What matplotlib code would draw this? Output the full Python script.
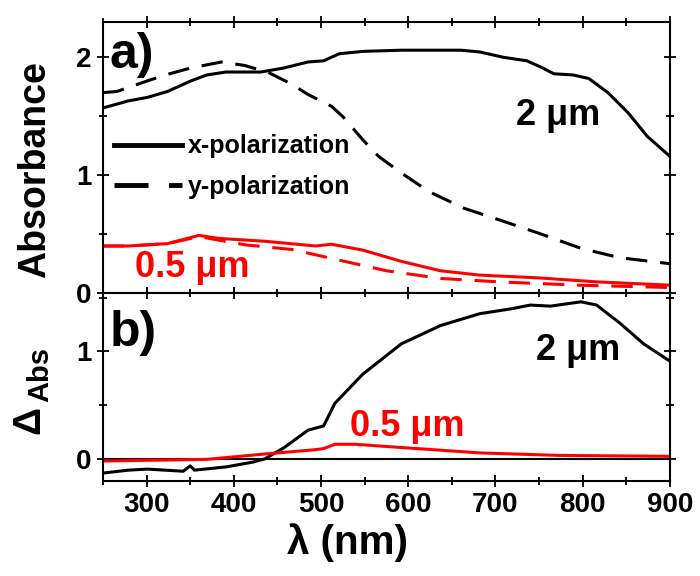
import numpy as np
import matplotlib
matplotlib.use("Agg")
import matplotlib.pyplot as plt
from matplotlib.ticker import MultipleLocator

plt.rcParams['font.family'] = ['Liberation Sans', 'DejaVu Sans']
plt.rcParams['font.weight'] = 'bold'
plt.rcParams['axes.labelweight'] = 'bold'

# Datos leidos del grafico
# a) Absorbancia, 2 um, polarizacion x (linea continua negra)
lam_2x = [250, 279, 301, 324, 351, 369, 391, 431, 458, 485, 503, 521, 548, 592,
          660, 682, 709, 736, 754, 767, 789, 807, 829, 852, 874, 900]
abs_2x = [1.57, 1.63, 1.66, 1.71, 1.80, 1.85, 1.875, 1.875, 1.91, 1.96, 1.97, 2.03,
          2.05, 2.06, 2.06, 2.045, 2.00, 1.97, 1.91, 1.86, 1.85, 1.82, 1.70, 1.53,
          1.33, 1.16]
# 2 um, polarizacion y (discontinua negra)
lam_2y = [250, 266, 301, 324, 351, 386, 413, 440, 467, 485, 512, 526, 548, 566,
          592, 624, 664, 709, 749, 798, 843, 900]
abs_2y = [1.70, 1.71, 1.80, 1.855, 1.91, 1.96, 1.93, 1.87, 1.77, 1.685, 1.585,
          1.49, 1.30, 1.16, 1.02, 0.86, 0.72, 0.61, 0.51, 0.38, 0.30, 0.25]
# 0.5 um, polarizacion x (continua roja)
lam_05x = [250, 279, 324, 360, 382, 436, 494, 512, 548, 592, 637, 682, 749, 816, 900]
abs_05x = [0.40, 0.40, 0.42, 0.49, 0.465, 0.44, 0.40, 0.415, 0.365, 0.27, 0.19,
           0.153, 0.13, 0.096, 0.068]
# 0.5 um, polarizacion y (discontinua roja)
lam_05y = [250, 279, 324, 360, 413, 467, 521, 575, 637, 704, 794, 900]
abs_05y = [0.40, 0.40, 0.42, 0.48, 0.41, 0.37, 0.28, 0.19, 0.125, 0.096, 0.068, 0.048]

# b) Delta absorbancia
lam_d2 = [250, 279, 301, 342, 350, 355, 391, 422, 436, 458, 485, 503, 516, 548,
          592, 637, 682, 718, 740, 763, 798, 816, 843, 870, 900]
dabs_2 = [-0.127, -0.10, -0.09, -0.11, -0.06, -0.10, -0.07, -0.025, 0.006, 0.11,
          0.27, 0.31, 0.52, 0.79, 1.07, 1.24, 1.35, 1.395, 1.43, 1.42, 1.46, 1.43,
          1.26, 1.07, 0.91]
lam_d05 = [250, 369, 436, 494, 503, 516, 539, 592, 682, 772, 900]
dabs_05 = [-0.015, 0.0, 0.05, 0.09, 0.10, 0.14, 0.14, 0.11, 0.06, 0.037, 0.028]

rojo = '#ff0000'
lw = 2.2
guiones = (7, 4.2)

fig = plt.figure(figsize=(7, 5.76), dpi=100)
ax1 = fig.add_axes([0.147, 0.491, 0.81, 0.471])
ax2 = fig.add_axes([0.147, 0.165, 0.81, 0.326], sharex=ax1)

ax1.plot(lam_2x, abs_2x, color='k', lw=lw, label='x-polarization')
ax1.plot(lam_2y, abs_2y, color='k', lw=lw, dashes=guiones, label='y-polarization')
ax1.plot(lam_05x, abs_05x, color=rojo, lw=lw)
ax1.plot(lam_05y, abs_05y, color=rojo, lw=lw, dashes=guiones)

ax2.axhline(0, color='k', lw=1.5)
ax2.plot(lam_d2, dabs_2, color='k', lw=lw)
ax2.plot(lam_d05, dabs_05, color=rojo, lw=lw)

ax1.set_xlim(250, 900)
ax1.set_ylim(0, 2.3)
ax2.set_ylim(-0.2, 1.54)

for ax in (ax1, ax2):
    ax.xaxis.set_major_locator(MultipleLocator(100))
    ax.xaxis.set_minor_locator(MultipleLocator(50))
    ax.yaxis.set_major_locator(MultipleLocator(1))
    ax.yaxis.set_minor_locator(MultipleLocator(0.5))
    ax.tick_params(which='both', direction='inout', top=True, right=True,
                   width=1.3, labelsize=20)
    ax.tick_params(which='major', length=9)
    ax.tick_params(which='minor', length=6)
    for s in ax.spines.values():
        s.set_linewidth(1.5)
ax1.tick_params(labelbottom=False)

ax2.set_xlabel('λ (nm)', fontsize=29)
ax2.xaxis.set_label_coords(0.432, -0.225)

ax1.set_ylabel('Absorbance', fontsize=27)
ax1.yaxis.set_label_coords(-0.088, 0.454)
# etiqueta Delta_Abs del panel b)
fig.text(29 / 700, 1 - 420 / 576, 'Δ', fontsize=28, rotation=90,
         ha='center', va='center')
fig.text(40 / 700, 1 - 374 / 576, 'Abs', fontsize=21, rotation=90,
         ha='center', va='center')

ax1.text(258, 1.91, 'a)', fontsize=36, va='baseline')
ax2.text(258, 1.055, 'b)', fontsize=36, va='baseline')

ax1.text(772, 1.43, '2 μm', fontsize=26, ha='center', va='baseline')
ax1.text(353, 0.136, '0.5 μm', fontsize=26, color=rojo, ha='center', va='baseline')
ax2.text(795, 0.917, '2 μm', fontsize=26, ha='center', va='baseline')
ax2.text(599, 0.22, '0.5 μm', fontsize=26, color=rojo, ha='center', va='baseline')

leg = ax1.legend(loc='upper left', bbox_to_anchor=(0.02, 0.585), frameon=False,
                 borderpad=0, borderaxespad=0, handlelength=2.7, handletextpad=0.25,
                 labelspacing=0.65, prop={'weight': 'bold', 'size': 18})
for h in leg.get_lines():
    h.set_linewidth(3.5)

fig.savefig('out.png', dpi=100)
